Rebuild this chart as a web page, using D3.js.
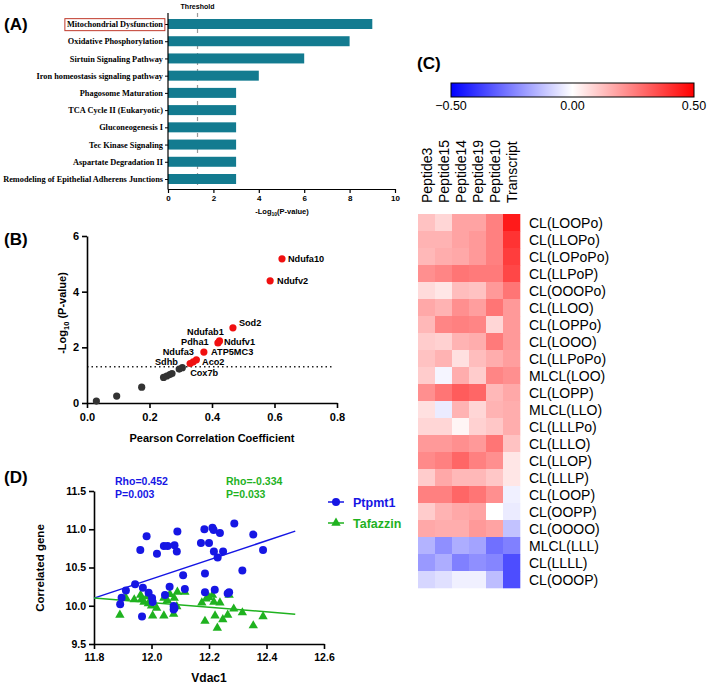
<!DOCTYPE html>
<html><head><meta charset="utf-8">
<script src="https://cdn.jsdelivr.net/npm/d3@7"></script>
<style>
body{margin:0;background:#fff}
svg{display:block}
text{font-family:"Liberation Sans",Arial,sans-serif;fill:#000}
</style>
</head><body>
<svg id="c" width="709" height="684"></svg>
<script>
// ---------------- DATA ----------------
// Panel A
const pathways = ["Mitochondrial Dysfunction","Oxidative Phosphorylation","Sirtuin Signaling Pathway","Iron homeostasis signaling pathway","Phagosome Maturation","TCA Cycle II (Eukaryotic)","Gluconeogenesis I","Tec Kinase Signaling","Aspartate Degradation II","Remodeling of Epithelial Adherens Junctions"];
const pathwayNegLogP = [9,8,6,4,3,3,3,3,3,3];
const pathwayTicks = [0,2,4,6,8,10];
const thresholdNegLogP = 1.3;

// Panel B
const geneCorr    = [0.03,0.095,0.175,0.245,0.255,0.265,0.272,0.295,0.305,0.33,0.34,0.35,0.374,0.419,0.424,0.467,0.586,0.624];
const geneNegLogP = [0.07,0.25,0.57,0.92,0.97,1.02,1.06,1.22,1.27,1.42,1.48,1.55,1.83,2.16,2.23,2.70,4.39,5.18];
const geneSignificant = [0,0,0,0,0,0,0,0,0,1,1,1,1,1,1,1,1,1];
const geneLabelText = ["Ndufa10","Ndufv2","Sod2","Ndufab1","Ndufv1","Pdha1","ATP5MC3","Ndufa3","Sdhb","Aco2","Cox7b"];
const geneLabelX    = [0.643,0.608,0.486,0.32,0.438,0.301,0.397,0.342,0.291,0.368,0.33];
const geneLabelY    = [5.18,4.39,2.88,2.57,2.21,2.21,1.85,1.85,1.49,1.49,1.10];
const geneLabelEnd  = [0,0,0,0,0,0,0,1,1,0,0];
const corrTicks = [0,0.2,0.4,0.6,0.8];
const logPTicks = [0,2,4,6];

// Panel C
const heatCols = ["Peptide3","Peptide15","Peptide14","Peptide19","Peptide10","Transcript"];
const heatRows = ["CL(LOOPo)","CL(LLOPo)","CL(LOPoPo)","CL(LLPoP)","CL(OOOPo)","CL(LLOO)","CL(LOPPo)","CL(LOOO)","CL(LLPoPo)","MLCL(LOO)","CL(LOPP)","MLCL(LLO)","CL(LLLPo)","CL(LLLO)","CL(LLOP)","CL(LLLP)","CL(LOOP)","CL(OOPP)","CL(OOOO)","MLCL(LLL)","CL(LLLL)","CL(OOOP)"];
const heatValues = [
 [0.12,0.08,0.18,0.18,0.25,0.45],
 [0.15,0.15,0.18,0.20,0.25,0.40],
 [0.14,0.16,0.17,0.20,0.25,0.38],
 [0.22,0.24,0.27,0.26,0.26,0.36],
 [0.07,0.05,0.13,0.12,0.20,0.27],
 [0.17,0.15,0.22,0.19,0.27,0.20],
 [0.14,0.24,0.25,0.24,0.08,0.20],
 [0.10,0.09,0.15,0.16,0.26,0.20],
 [0.12,0.15,0.06,0.13,0.16,0.19],
 [0.10,-0.02,0.16,0.10,0.24,0.22],
 [0.22,0.27,0.32,0.30,0.14,0.17],
 [0.06,-0.04,0.15,0.08,0.15,0.16],
 [0.08,0.08,0.02,0.09,0.11,0.16],
 [0.20,0.20,0.22,0.20,0.27,0.12],
 [0.23,0.25,0.30,0.25,0.22,0.05],
 [0.10,0.17,0.14,0.14,0.11,0.05],
 [0.25,0.25,0.30,0.27,0.22,-0.03],
 [0.10,0.15,0.17,0.18,0.00,-0.04],
 [0.17,0.16,0.16,0.20,0.18,-0.12],
 [-0.15,-0.22,-0.16,-0.18,-0.28,-0.25],
 [-0.20,-0.16,-0.25,-0.22,-0.24,-0.35],
 [-0.08,-0.06,-0.03,-0.03,-0.13,-0.35]
];
const colorbarTicks = [-0.5,0,0.5];

// Panel D
const ptpmtX = [12.288,12.184,12.212,12.216,12.238,12.090,11.983,12.354,12.043,12.056,12.080,12.172,12.200,11.961,12.019,12.088,12.217,12.249,12.388,12.230,12.316,12.186,12.110,11.943,11.911,11.970,12.063,12.116,11.990,12.002,12.004,11.896,11.891,12.047,12.077,12.077,12.080,12.186,12.220,12.265,12.270,11.967];
const ptpmtY = [11.076,11.00,11.02,10.99,10.95,10.97,10.91,10.93,10.78,10.78,10.79,10.82,10.82,10.73,10.68,10.71,10.71,10.71,10.73,10.63,10.46,10.42,10.40,10.28,10.20,10.235,10.25,10.22,10.17,10.10,10.05,10.105,10.02,10.14,9.996,9.95,9.97,10.175,10.21,10.16,10.175,9.86];
const tafX = [11.890,11.910,11.940,11.962,11.966,11.974,11.989,12.000,12.004,12.018,12.043,12.064,12.090,12.116,12.079,12.088,12.077,12.043,12.055,12.186,12.175,12.190,12.200,12.212,12.217,12.238,12.221,12.229,12.248,12.265,12.286,12.316,12.354,12.388,12.270,11.985];
const tafY = [9.88,10.11,10.08,10.14,10.09,10.05,10.03,10.00,9.87,9.97,9.87,10.15,10.18,10.18,10.10,9.99,9.89,10.10,10.07,9.80,10.04,10.09,10.11,10.14,10.05,10.04,9.87,9.71,9.82,9.88,9.96,9.91,9.74,9.86,10.14,10.12];
const ptpmtFitX = [11.8,12.5], ptpmtFitY = [10.10,10.975];
const tafFitX = [11.8,12.5], tafFitY = [10.10,9.89];
const vdacTicks = [11.8,12.0,12.2,12.4,12.6];
const geneTicks = [9.5,10.0,10.5,11.0,11.5];
const seriesNames = ["Ptpmt1","Tafazzin"];
const statsText = [["Rho=0.452","P=0.003"],["Rho=-0.334","P=0.033"]];

// ---------------- DRAW ----------------
const svg = d3.select("#c");
const SERIF = '"Liberation Serif","Times New Roman",serif';
const BLUE = "#1616e4", GREEN = "#1fb21f", TEAL = "#137b90";

function styleAxis(g, fs, fw, sw, fam){
  g.selectAll("text").attr("font-size",fs).attr("font-weight",fw).attr("fill","#000");
  if(fam) g.selectAll("text").style("font-family",fam);
  g.selectAll("line").attr("stroke","#000").attr("stroke-width",sw);
  g.selectAll("path.domain").attr("stroke","#000").attr("stroke-width",sw);
}
function panelLabel(t,x,y){
  svg.append("text").attr("x",x).attr("y",y).attr("font-size",17).attr("font-weight","bold").text(t);
}
panelLabel("(A)",4,30); panelLabel("(B)",4,245); panelLabel("(C)",417,69); panelLabel("(D)",4,483);

// ---- Panel A ----
const ax = d3.scaleLinear().domain([0,10]).range([168,395]);
const ay = d3.scalePoint().domain(pathways).range([24,179]);
const gA = svg.append("g");
gA.append("line").attr("x1",ax(thresholdNegLogP)).attr("x2",ax(thresholdNegLogP))
  .attr("y1",13).attr("y2",189).attr("stroke","#9a9a9a").attr("stroke-width",1.2).attr("stroke-dasharray","4,4");
gA.append("text").attr("x",ax(thresholdNegLogP)).attr("y",8.5).attr("text-anchor","middle")
  .attr("font-size",7).attr("font-weight","bold").text("Threshold");
gA.selectAll("rect.bar").data(pathways).join("rect").attr("class","bar")
  .attr("x",ax(0)).attr("y",d=>ay(d)-5).attr("height",10)
  .attr("width",(d,i)=>ax(pathwayNegLogP[i])-ax(0)).attr("fill",TEAL);
const gAy = gA.append("g").attr("transform",`translate(${ax(0)},0)`)
  .call(d3.axisLeft(ay).tickSize(3).tickPadding(2));
gAy.select(".domain").remove();
styleAxis(gAy,8.3,"bold",1,SERIF);
gA.append("line").attr("x1",ax(0)).attr("x2",ax(0)).attr("y1",13).attr("y2",189.5).attr("stroke","#000").attr("stroke-width",1.2);
const gAx = gA.append("g").attr("transform","translate(0,189)")
  .call(d3.axisBottom(ax).tickValues(pathwayTicks).tickFormat(d3.format("d")).tickSize(4).tickSizeOuter(0).tickPadding(2));
styleAxis(gAx,8,"bold",1.2);
const xl = gA.append("text").attr("x",282).attr("y",214).attr("text-anchor","middle").attr("font-size",7.5).attr("font-weight","bold");
xl.append("tspan").text("-Log");
xl.append("tspan").attr("font-size",5).attr("dy",2).text("10");
xl.append("tspan").attr("dy",-2).text("(P-value)");
// red box around first label
const firstLbl = gAy.selectAll(".tick text").filter(d=>d===pathways[0]).node();
const bb = firstLbl.getBBox();
const tr = firstLbl.parentNode.getAttribute("transform");
const ty = +tr.match(/,([\d.\-]+)\)/)[1];
gA.append("rect").attr("x",ax(0)+bb.x-2).attr("y",ty+bb.y-1.5).attr("width",bb.width+3.5).attr("height",bb.height+3)
  .attr("fill","none").attr("stroke","#c0392b").attr("stroke-width",1);

// ---- Panel B ----
const bx = d3.scaleLinear().domain([0,0.8]).range([87,337]);
const by = d3.scaleLinear().domain([0,6]).range([403,236]);
const gB = svg.append("g");
gB.append("line").attr("x1",bx(0)).attr("x2",bx(0.79)).attr("y1",by(thresholdNegLogP)).attr("y2",by(thresholdNegLogP))
  .attr("stroke","#222").attr("stroke-width",1.5).attr("stroke-dasharray","1.5,3");
const gBx = gB.append("g").attr("transform",`translate(0,${by(0)})`)
  .call(d3.axisBottom(bx).tickValues(corrTicks).tickFormat(d3.format(".1f")).tickSize(5).tickSizeOuter(0).tickPadding(5));
styleAxis(gBx,11,"bold",1.6);
const gBy = gB.append("g").attr("transform",`translate(${bx(0)},0)`)
  .call(d3.axisLeft(by).tickValues(logPTicks).tickFormat(d3.format("d")).tickSize(5).tickSizeOuter(0).tickPadding(3));
styleAxis(gBy,11,"bold",1.6);
gB.append("text").attr("x",212).attr("y",442).attr("text-anchor","middle").attr("font-size",11).attr("font-weight","bold").text("Pearson Correlation Coefficient");
const yl = gB.append("text").attr("transform","translate(66,313) rotate(-90)").attr("text-anchor","middle").attr("font-size",11).attr("font-weight","bold");
yl.append("tspan").text("-Log");
yl.append("tspan").attr("font-size",7.5).attr("dy",3).text("10");
yl.append("tspan").attr("dy",-3).text(" (P-value)");
gB.selectAll("circle.g").data(geneCorr).join("circle").attr("class","g")
  .attr("cx",d=>bx(d)).attr("cy",(d,i)=>by(geneNegLogP[i])).attr("r",3.6)
  .attr("fill",(d,i)=>geneSignificant[i]?"#f01010":"#333");
gB.selectAll("text.gl").data(geneLabelText).join("text").attr("class","gl")
  .attr("x",(d,i)=>bx(geneLabelX[i])).attr("y",(d,i)=>by(geneLabelY[i])).attr("dy","0.35em")
  .attr("text-anchor",(d,i)=>geneLabelEnd[i]?"end":"start")
  .attr("font-size",9.2).attr("font-weight","bold").attr("fill","#222").text(d=>d);

// ---- Panel D ----
const dx = d3.scaleLinear().domain([11.8,12.6]).range([94,324]);
const dy = d3.scaleLinear().domain([9.5,11.5]).range([644,491]);
const gD = svg.append("g");
const gDx = gD.append("g").attr("transform",`translate(0,${dy(9.5)})`)
  .call(d3.axisBottom(dx).tickValues(vdacTicks).tickFormat(d3.format(".1f")).tickSize(5).tickSizeOuter(0).tickPadding(5));
styleAxis(gDx,10.5,"bold",1.6);
const gDy = gD.append("g").attr("transform",`translate(${dx(11.8)},0)`)
  .call(d3.axisLeft(dy).tickValues(geneTicks).tickFormat(d3.format(".1f")).tickSize(5).tickSizeOuter(0).tickPadding(3));
styleAxis(gDy,10.5,"bold",1.6);
gD.append("text").attr("x",209).attr("y",682).attr("text-anchor","middle").attr("font-size",12).attr("font-weight","bold").text("Vdac1");
gD.append("text").attr("transform","translate(44,568) rotate(-90)").attr("text-anchor","middle").attr("font-size",11.5).attr("font-weight","bold").text("Correlated gene");
gD.append("line").attr("x1",dx(ptpmtFitX[0])).attr("y1",dy(ptpmtFitY[0])).attr("x2",dx(ptpmtFitX[1])).attr("y2",dy(ptpmtFitY[1])).attr("stroke",BLUE).attr("stroke-width",1.5);
gD.append("line").attr("x1",dx(tafFitX[0])).attr("y1",dy(tafFitY[0])).attr("x2",dx(tafFitX[1])).attr("y2",dy(tafFitY[1])).attr("stroke",GREEN).attr("stroke-width",1.5);
const tri = d3.symbol().type(d3.symbolTriangle).size(38);
gD.selectAll("path.t").data(tafX).join("path").attr("class","t")
  .attr("transform",(d,i)=>`translate(${dx(d)},${dy(tafY[i])})`).attr("d",tri).attr("fill",GREEN);
gD.selectAll("circle.p").data(ptpmtX).join("circle").attr("class","p")
  .attr("cx",d=>dx(d)).attr("cy",(d,i)=>dy(ptpmtY[i])).attr("r",4).attr("fill",BLUE);
// stats text
[[115,BLUE],[226,GREEN]].forEach(([x,c],k)=>{
  statsText[k].forEach((t,j)=>{
    gD.append("text").attr("x",x).attr("y",485+j*13).attr("font-size",10.5).attr("font-weight","bold").attr("fill",c).style("fill",c).text(t);
  });
});
// legend
const legC = [BLUE,GREEN];
seriesNames.forEach((n,i)=>{
  const y = 502 + i*21;
  gD.append("line").attr("x1",328).attr("x2",344).attr("y1",y).attr("y2",y).attr("stroke",legC[i]).attr("stroke-width",1.5);
  if(i===0) gD.append("circle").attr("cx",336).attr("cy",y).attr("r",4).attr("fill",BLUE);
  else gD.append("path").attr("transform",`translate(336,${y})`).attr("d",tri).attr("fill",GREEN);
  gD.append("text").attr("x",353).attr("y",y).attr("dy","0.36em").attr("font-size",12.5).attr("font-weight","bold").style("fill",legC[i]).text(n);
});

// ---- Panel C ----
const color = d3.scaleLinear().domain([-0.5,0,0.5]).range(["#0000ff","#ffffff","#ff0000"]).clamp(true);
const hx = d3.scaleBand().domain(heatCols).range([418,520]);
const hy = d3.scaleBand().domain(heatRows).range([214,588]);
const gC = svg.append("g");
heatValues.forEach((row,r)=>{
  row.forEach((v,c)=>{
    gC.append("rect").attr("x",hx(heatCols[c])).attr("y",hy(heatRows[r]))
      .attr("width",hx.bandwidth()+0.3).attr("height",hy.bandwidth()+0.3).attr("fill",color(v));
  });
});
gC.selectAll("text.col").data(heatCols).join("text").attr("class","col")
  .attr("transform",d=>`translate(${hx(d)+hx.bandwidth()/2+5},203) rotate(-90)`)
  .attr("font-size",14).text(d=>d);
gC.selectAll("text.row").data(heatRows).join("text").attr("class","row")
  .attr("x",529).attr("y",d=>hy(d)+hy.bandwidth()/2).attr("dy","0.36em")
  .attr("font-size",14).text(d=>d);
// colorbar
const defs = svg.append("defs");
const grad = defs.append("linearGradient").attr("id","cb").attr("x1","0%").attr("x2","100%");
d3.range(0,1.0001,0.1).forEach(t=>grad.append("stop").attr("offset",(t*100)+"%").attr("stop-color",color(-0.5+t)));
const cbx = d3.scaleLinear().domain([-0.5,0.5]).range([451,694]);
gC.append("rect").attr("x",cbx(-0.5)).attr("y",83).attr("width",cbx(0.5)-cbx(-0.5)).attr("height",14)
  .attr("fill","url(#cb)").attr("stroke","#000").attr("stroke-width",1);
gC.selectAll("text.cb").data(colorbarTicks).join("text").attr("class","cb")
  .attr("x",d=>cbx(d)).attr("y",110).attr("text-anchor","middle").attr("font-size",12.5)
  .text(d=>d3.format(".2f")(d));
</script>
</body></html>
